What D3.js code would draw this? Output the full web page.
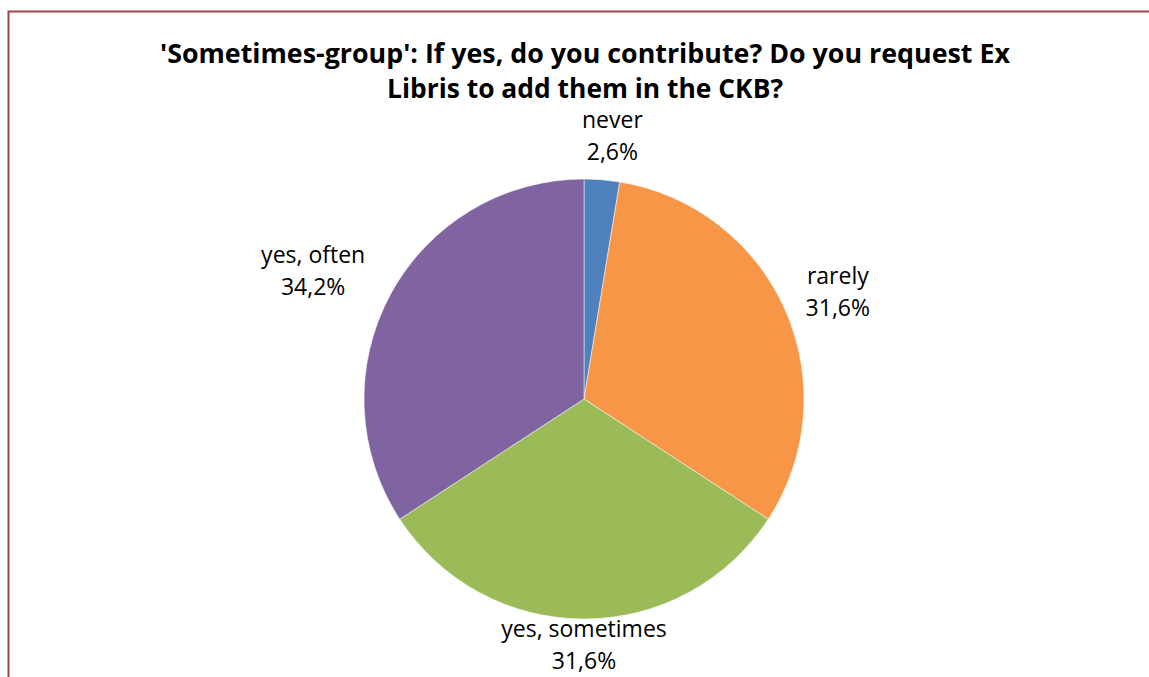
<!DOCTYPE html>
<html><head><meta charset="utf-8">
<script src="https://cdn.jsdelivr.net/npm/d3@7"></script>
<style>html,body{margin:0;padding:0;background:#fff;}</style>
</head><body>
<svg id="chart" width="1149" height="677"></svg>
<script>
const titleLines = ["'Sometimes-group': If yes, do you contribute? Do you request Ex", "Libris to add them in the CKB?"];
const categories = ["never", "rarely", "yes, sometimes", "yes, often"];
const values = [2.6, 31.6, 31.6, 34.2];
const valueLabels = ["2,6%", "31,6%", "31,6%", "34,2%"];
const colors = ["#4F81BD", "#F79646", "#9BBB59", "#8064A2"];

const svg = d3.select("#chart");
const font = "'Open Sans', 'Liberation Sans', sans-serif";

// border
svg.append("path").attr("d", "M8.5,677 V11.5 H1149")
  .attr("fill", "none").attr("stroke", "#9C4543").attr("stroke-width", 2);

// title
const titleWidths = [850, 396];
const titleY = [63, 98];
titleLines.forEach((t, i) => {
  svg.append("text").attr("x", 585).attr("y", titleY[i])
    .attr("text-anchor", "middle").attr("font-family", font)
    .attr("font-weight", "bold").attr("font-size", 26).attr("fill", "#000")
    .attr("textLength", titleWidths[i]).attr("lengthAdjust", "spacingAndGlyphs")
    .text(t);
});

const cx = 584, cy = 399, r = 220;
const pie = d3.pie().sort(null).value(d => d);
const arcs = pie(values);
const arc = d3.arc().innerRadius(0).outerRadius(r);
const g = svg.append("g").attr("transform", `translate(${cx},${cy})`);
g.selectAll("path").data(arcs).enter().append("path")
  .attr("d", arc).attr("fill", (d, i) => colors[i])
  .attr("stroke", "#fff").attr("stroke-width", 0.5);

// labels: radial anchor plus small layout nudges
const labelR = 250;
const nudges = [[8, -22], [25, -14], [0, -12], [-51, -17]];
arcs.forEach((a, i) => {
  const mid = (a.startAngle + a.endAngle) / 2;
  const x = Math.sin(mid) * labelR + nudges[i][0];
  const y = -Math.cos(mid) * labelR + nudges[i][1];
  const t = g.append("text").attr("text-anchor", "middle")
    .attr("font-family", font).attr("font-size", 23).attr("fill", "#000");
  t.append("tspan").attr("x", x).attr("y", y).text(categories[i]);
  t.append("tspan").attr("x", x).attr("y", y + 32).text(valueLabels[i]);
});
</script>
</body></html>
